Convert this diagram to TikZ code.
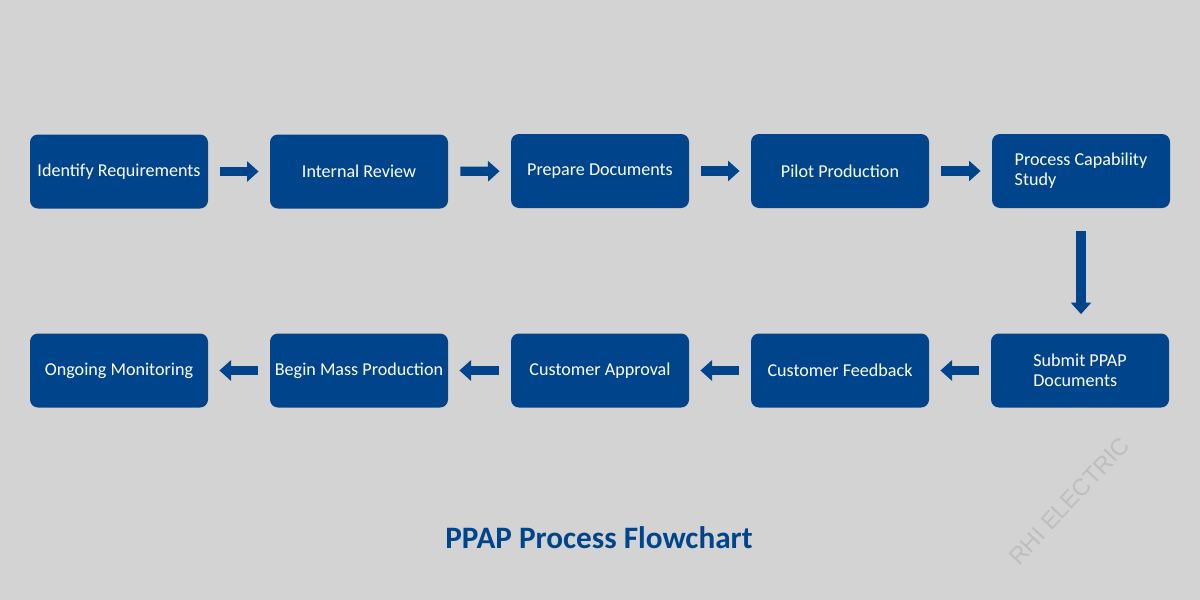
\documentclass[tikz,border=0pt]{standalone}
\usepackage{fontspec}
\setmainfont{Carlito}
\newfontfamily\wmfont{Liberation Sans}
\usetikzlibrary{arrows.meta,positioning}
\definecolor{ppblue}{RGB}{0,69,139}
\definecolor{ppbg}{RGB}{211,211,211}
\definecolor{ppmark}{RGB}{190,190,190}
\tikzset{
  ppal/.style={x=0.5pt, y=-0.5pt},
  p box/.style={fill=ppblue, rounded corners=4pt, minimum width=89pt, minimum height=37pt,
                text=white, align=left, inner sep=0pt, font=\fontsize{9.05}{10}\selectfont},
  p arr/.style={draw=ppblue, line width=4.6pt, -{Triangle[length=5.8pt, width=10pt]},
                shorten <=6pt, shorten >=5.5pt},
  p down/.style={p arr, shorten <=11.5pt, shorten >=9.5pt},
  p title/.style={text=ppblue, font=\fontsize{15.6}{17}\selectfont\bfseries},
  p mark/.style={text=ppmark, rotate=47, font=\wmfont\fontsize{11.8}{13}\selectfont},
}

\begin{document}
\begin{tikzpicture}[ppal]
\useasboundingbox[fill=ppbg] (0, 0) rectangle (1200, 600);
% ---- top row, left to right ----
\node[p box] (ident)  at (119, 171.5)  {Identify Requirements};
\node[p box] (review) at (359, 171.5)  {Internal Review};
\node[p box] (prep)   at (600, 171)    {Prepare Documents};
\node[p box] (pilot)  at (840, 171)    {Pilot Production};
\node[p box] (capab)  at (1081, 171)   {Process Capability\\Study};
\draw[p arr] (ident)--(review); \draw[p arr] (review)--(prep); \draw[p arr] (prep)--(pilot); \draw[p arr] (pilot)--(capab);
% ---- bottom row, right to left ----
\node[p box] (submit) at (1080, 370.5) {Submit PPAP\\Documents};
\node[p box] (feedb)  at (840, 370.5)  {Customer Feedback};
\node[p box] (approv) at (600, 370.5)  {Customer Approval};
\node[p box] (mass)   at (359, 370.5)  {Begin Mass Production};
\node[p box] (monit)  at (119, 370.5)  {Ongoing Monitoring};
\draw[p down] (capab.south) -- (capab.south |- submit.north);
\draw[p arr] (submit)--(feedb); \draw[p arr] (feedb)--(approv); \draw[p arr] (approv)--(mass); \draw[p arr] (mass)--(monit);
% ---- caption and mark ----
\node[p title] (title) at (599, 538) {PPAP Process Flowchart};
\node[p mark] (mark) at (1069, 501) {RHI ELECTRIC};
\end{tikzpicture}
\end{document}
